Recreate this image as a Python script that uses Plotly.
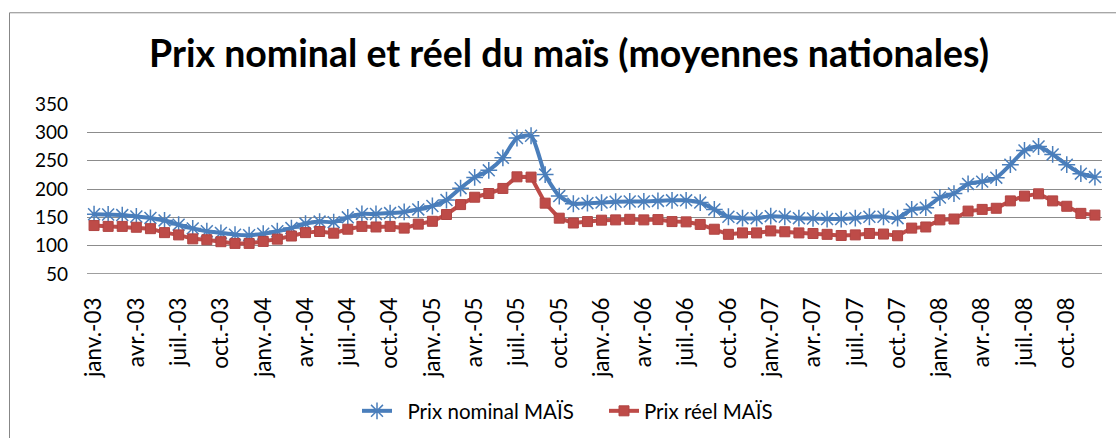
import plotly.graph_objects as go

MONTHS = ["janv.", "févr.", "mars", "avr.", "mai", "juin",
          "juil.", "août", "sept.", "oct.", "nov.", "déc."]
YEARS = ["03", "04", "05", "06", "07", "08"]
categories = [f"{m}-{y}" for y in YEARS for m in MONTHS]

prix_nominal = [
    155.5, 155, 154, 151.5, 149, 144.5, 137, 130.5, 125.5, 122.5, 119.5, 118.5,
    121, 125.5, 131, 139, 142.5, 141.5, 150, 156, 156, 157.5, 159.5, 164,
    170, 180.5, 201.5, 220.5, 233, 255, 290, 294, 225.5, 187.5, 174, 175,
    176, 177.5, 178, 178, 179, 180, 180, 176, 164, 151, 148.5, 148.5,
    152, 151, 148.5, 148, 147, 147, 148.5, 151, 151, 148.5, 164, 167,
    185, 192, 209, 213, 220, 243, 268, 275, 261, 243, 227, 221,
]
prix_reel = [
    135.5, 134, 134, 132.5, 130, 123, 119, 112, 110.5, 107, 104, 104,
    107.5, 111.5, 117, 123, 125, 122, 129, 134, 133, 134, 131, 138,
    143, 155, 172.5, 185.5, 192, 201, 221.5, 221, 175, 148.5, 140, 142.5,
    145, 145.5, 146.5, 145.5, 146, 142.5, 142, 137.5, 129, 120, 122.5, 122.5,
    126, 124.5, 122.5, 121.5, 120, 118, 119, 121.5, 120.5, 117.5, 131, 133,
    145.5, 147, 161, 164, 166, 179, 187.5, 191.5, 179, 169.5, 157, 154,
]
tick_labels = categories[::3]
y_ticks = [50, 100, 150, 200, 250, 300, 350]

FONT = "Lato, 'Open Sans', sans-serif"
BLUE = "#4A7EBB"
RED = "#BE4B48"
PAD = "\u00a0\u00a0"

fig = go.Figure()
fig.add_trace(go.Scatter(
    x=categories, y=prix_nominal, name=PAD + "Prix nominal MAÏS",
    mode="lines+markers",
    line=dict(color=BLUE, width=4, shape="spline", smoothing=0.6),
    marker=dict(symbol="asterisk-open", size=14, color=BLUE,
                line=dict(color=BLUE, width=1.5)),
))
fig.add_trace(go.Scatter(
    x=categories, y=prix_reel, name="Prix réel MAÏS",
    mode="lines+markers",
    line=dict(color=RED, width=4),
    marker=dict(symbol="square", size=10, color=RED,
                line=dict(color="#B04442", width=1)),
))

L, R, T, B = 87, 14, 104, 163.5
W, H = 1116, 438
pw = W - L - R
ph = H - T - B

def px_x(p):
    return (p - L) / pw

def px_y(p):
    return (H - B - p) / ph

fig.update_layout(
    width=W, height=H,
    margin=dict(l=L, r=R, t=T, b=B, autoexpand=False),
    paper_bgcolor="white", plot_bgcolor="white",
    font=dict(family=FONT, color="#000000", size=19),
    title=dict(text="<b>Prix nominal et réel du maïs (moyennes nationales)</b>",
               x=569 / W, xanchor="center", y=1 - 54 / H, yanchor="middle",
               xref="container", yref="container",
               font=dict(family=FONT, size=37.5, color="#000000")),
    showlegend=True,
    legend=dict(orientation="h", x=(357) / W, xref="container", xanchor="left",
                y=1 - 411 / H, yref="container", yanchor="middle",
                font=dict(family=FONT, size=20.5, color="#000000"),
                bgcolor="rgba(0,0,0,0)", itemwidth=30, tracegroupgap=0,
                entrywidth=202, entrywidthmode="pixels"),
    xaxis=dict(type="category", range=[-0.5, len(categories) - 0.5],
               tickmode="array", tickvals=tick_labels, ticktext=tick_labels,
               tickangle=-90, showgrid=False, showline=False, zeroline=False,
               ticks="", ticklabelstandoff=18,
               tickfont=dict(family=FONT, size=22.5, color="#000000")),
    yaxis=dict(range=[50, 350], tickvals=y_ticks, showgrid=True,
               gridcolor="#8c8c8c", gridwidth=1, zeroline=False, showline=False,
               ticks="", ticklabelstandoff=18,
               tickfont=dict(family=FONT, size=19, color="#000000")),
    shapes=[
        dict(type="rect", xref="paper", yref="paper",
             x0=px_x(9.5), x1=px_x(1125), y0=px_y(450), y1=px_y(12.5),
             line=dict(color="#878787", width=1), fillcolor="rgba(0,0,0,0)",
             layer="below"),
        dict(type="line", xref="paper", yref="y", x0=0, x1=1, y0=50, y1=50,
             line=dict(color="#7f7f7f", width=1.5), layer="below"),
    ],
)

fig.write_html("out.html", config={"displayModeBar": False},
               post_script="document.body.style.margin='0';document.body.style.padding='0';")
